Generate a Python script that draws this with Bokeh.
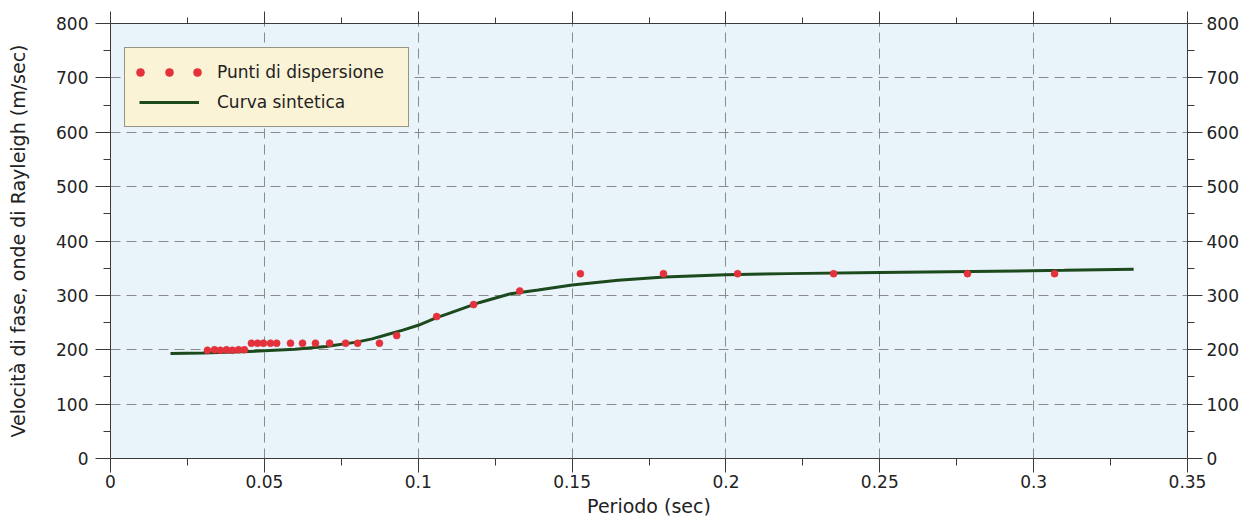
from bokeh.plotting import figure
from bokeh.models import (LinearAxis, FixedTicker, Range1d, Legend, LegendItem,
                          Grid, ColumnDataSource)
from bokeh.embed import file_html
from bokeh.resources import INLINE

# ---------------- data ----------------
periodo_punti = [0.0315, 0.0338, 0.0357, 0.0377, 0.0396, 0.0416, 0.0435,
                 0.0458, 0.0478, 0.0497, 0.0520, 0.0540,
                 0.0585, 0.0624, 0.0666, 0.0712, 0.0764, 0.0803, 0.0874,
                 0.0930, 0.1060, 0.1180, 0.1330, 0.1527, 0.1797, 0.2038,
                 0.2350, 0.2785, 0.3068]
vel_punti = [199, 200, 199, 200, 199, 200, 200,
             212, 212, 212, 212, 212,
             212, 212, 212, 212, 212, 212, 212,
             226, 261, 283, 308, 340, 340, 340,
             340, 340, 340]

periodo_curva = [0.0195, 0.030, 0.040, 0.050, 0.060, 0.070, 0.080, 0.085,
                 0.090, 0.095, 0.100, 0.106, 0.110, 0.120, 0.130, 0.139,
                 0.150, 0.165, 0.180, 0.200, 0.220, 0.250, 0.280, 0.310, 0.3325]
vel_curva = [193, 194, 196, 198, 201, 206, 214, 220,
             228, 236, 245, 259, 267, 287, 303, 310,
             319, 328, 334, 338, 340, 342, 344, 346, 348]

x_ticks = [0, 0.05, 0.1, 0.15, 0.2, 0.25, 0.3, 0.35]
x_tick_labels = ["0", "0.05", "0.1", "0.15", "0.2", "0.25", "0.3", "0.35"]
x_minor = [0.025, 0.075, 0.125, 0.175, 0.225, 0.275, 0.325]
y_ticks = [0, 100, 200, 300, 400, 500, 600, 700, 800]
y_tick_labels = ["0", "100", "200", "300", "400", "500", "600", "700", "800"]
y_minor = [50, 150, 250, 350, 450, 550, 650, 750]

serie_punti = "Punti di dispersione"
serie_curva = "Curva sintetica"
x_label = "Periodo (sec)"
y_label = "Velocità di fase, onde di Rayleigh (m/sec)"

# ---------------- style ----------------
FONT = "DejaVu Sans"
AX = "#3a3a3a"
RED = "#e3323b"
GREEN = "#1d4a1d"

p = figure(width=1246, height=523,
           x_range=Range1d(0, 0.35), y_range=Range1d(0, 800),
           x_axis_type=None, y_axis_type=None,
           output_backend="svg", toolbar_location=None,
           min_border_left=110, min_border_right=59,
           min_border_top=23, min_border_bottom=65)
p.background_fill_color = "#e8f3fa"
p.border_fill_color = "white"
p.outline_line_color = None

xt = FixedTicker(ticks=x_ticks, minor_ticks=x_minor)
yt = FixedTicker(ticks=y_ticks, minor_ticks=y_minor)


def style_axis(ax, tick_out, minor_out, standoff, font_px):
    ax.axis_line_color = AX
    ax.major_tick_line_color = AX
    ax.minor_tick_line_color = AX
    ax.major_tick_in = 0
    ax.minor_tick_in = 0
    ax.major_tick_out = tick_out
    ax.minor_tick_out = minor_out
    ax.major_label_standoff = standoff
    ax.major_label_text_font = FONT
    ax.major_label_text_font_size = font_px
    ax.major_label_text_color = "#222222"
    ax.axis_label_text_font = FONT
    ax.axis_label_text_font_style = "normal"
    ax.axis_label_text_font_size = "19px"
    ax.axis_label_text_color = "#222222"


bottom = LinearAxis(ticker=xt, axis_label=x_label,
                    major_label_overrides=dict(zip(x_ticks, x_tick_labels)))
style_axis(bottom, 14, 7, 2, "17px")
bottom.axis_label_standoff = 4
p.add_layout(bottom, "below")

top = LinearAxis(ticker=xt, major_label_overrides={t: "" for t in x_ticks})
style_axis(top, 12, 6, 0, "0px")
p.add_layout(top, "above")

left = LinearAxis(ticker=yt, axis_label=y_label,
                  major_label_overrides=dict(zip(y_ticks, y_tick_labels)))
style_axis(left, 15, 7, 7, "17px")
left.axis_label_standoff = 24
p.add_layout(left, "left")

right = LinearAxis(ticker=yt,
                   major_label_overrides=dict(zip(y_ticks, y_tick_labels)))
style_axis(right, 15, 7, 4, "17px")
p.add_layout(right, "right")

for dim, tk in ((0, xt), (1, yt)):
    g = Grid(dimension=dim, ticker=tk, grid_line_color="#8a8a8a",
             grid_line_dash="10 6", grid_line_width=1)
    p.add_layout(g)

src_p = ColumnDataSource(dict(x=periodo_punti, y=vel_punti))
src_c = ColumnDataSource(dict(x=periodo_curva, y=vel_curva))

ln = p.line("x", "y", source=src_c, line_width=3, line_color=GREEN)
sc = p.scatter("x", "y", source=src_p, size=7, fill_color=RED,
               line_color=RED, line_alpha=0.6)

legend = Legend(items=[LegendItem(label=serie_punti, renderers=[sc]),
                       LegendItem(label=serie_curva, renderers=[ln])],
                location=(14, 331), margin=0, padding=14, spacing=10,
                glyph_width=60, glyph_height=20, label_height=20,
                label_width=177, label_standoff=18,
                label_text_font=FONT, label_text_font_size="17px",
                label_text_color="#222222",
                background_fill_color="#fbf3d6", background_fill_alpha=1,
                border_line_color="#333333", border_line_width=1)
p.add_layout(legend)

# two extra marker samples so the legend's dot sample reads "•  •  •"
for loc in ((20, 376), (77, 376)):
    extra = Legend(items=[LegendItem(label="", renderers=[sc])],
                   location=loc, margin=0, padding=0, spacing=0,
                   glyph_width=20, glyph_height=20, label_height=20,
                   label_width=0, label_standoff=0,
                   label_text_font_size="1px",
                   background_fill_alpha=0, border_line_alpha=0)
    p.add_layout(extra)

open("out.html", "w").write(file_html(p, INLINE))
